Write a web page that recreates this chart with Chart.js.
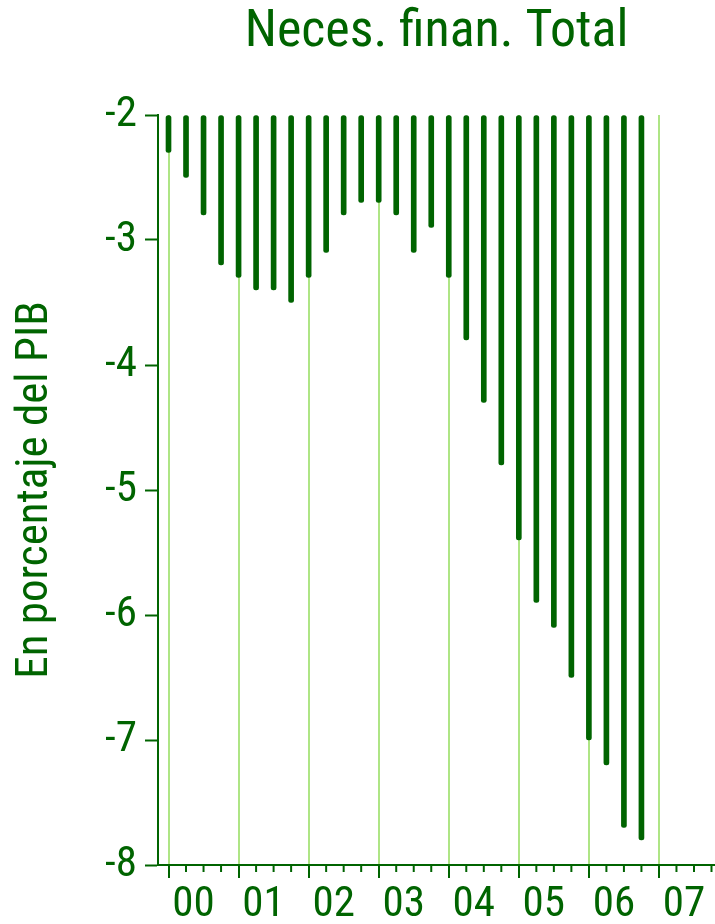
<!DOCTYPE html>
<html>
<head>
<meta charset="utf-8">
<script src="https://cdn.jsdelivr.net/npm/chart.js@4.4.1/dist/chart.umd.min.js"></script>
<style>
  html, body { margin: 0; padding: 0; background: #fff; }
  #wrap { width: 715px; height: 924px; }
</style>
</head>
<body>
<div id="wrap"><canvas id="chart" width="715" height="924"></canvas></div>
<script>
// Quarterly values, 2000 Q1 .. 2006 Q4 (% of GDP)
const quarters = [
  '2000T1', '2000T2', '2000T3', '2000T4',
  '2001T1', '2001T2', '2001T3', '2001T4',
  '2002T1', '2002T2', '2002T3', '2002T4',
  '2003T1', '2003T2', '2003T3', '2003T4',
  '2004T1', '2004T2', '2004T3', '2004T4',
  '2005T1', '2005T2', '2005T3', '2005T4',
  '2006T1', '2006T2', '2006T3', '2006T4'
];
const necesidad = [
  -2.3, -2.5, -2.8, -3.2,
  -3.3, -3.4, -3.4, -3.5,
  -3.3, -3.1, -2.8, -2.7,
  -2.7, -2.8, -3.1, -2.9,
  -3.3, -3.8, -4.3, -4.8,
  -5.4, -5.9, -6.1, -6.5,
  -7.0, -7.2, -7.7, -7.8
];
const yearLabels = ['00', '01', '02', '03', '04', '05', '06', '07'];

const dark = '#006400';
const light = '#aee585';
// no narrow font installed by name, so ask for the condensed width of Roboto
const fontFam = 'Roboto, sans-serif';
const narrow = 'normal condensed';

// short quarter ticks on the x axis
const minorTicks = {
  id: 'minorTicks',
  afterDraw(chart) {
    const x = chart.scales.x;
    const ctx = chart.ctx;
    ctx.save();
    ctx.strokeStyle = dark;
    ctx.lineWidth = 2;
    for (let i = 0; i < 32; i++) {
      if (i % 4 === 0) continue;
      const px = x.getPixelForValue(i);
      ctx.beginPath();
      ctx.moveTo(px, x.top);
      ctx.lineTo(px, x.top + 7);
      ctx.stroke();
    }
    ctx.restore();
  }
};

new Chart(document.getElementById('chart'), {
  type: 'bar',
  data: {
    datasets: [{
      label: 'Neces. finan. Total',
      data: necesidad.map((v, i) => ({ x: i, y: v })),
      base: -2,
      backgroundColor: dark,
      barThickness: 5,
      borderRadius: 2.5,
      borderSkipped: false
    }]
  },
  options: {
    responsive: false,
    animation: false,
    layout: { padding: 0 },
    plugins: {
      legend: { display: false },
      tooltip: { enabled: false },
      title: {
        display: true,
        text: 'Neces. finan. Total',
        color: dark,
        fullSize: false,
        font: { family: fontFam, size: 52, weight: narrow },
        padding: { top: 2, bottom: 50.6 }
      }
    },
    scales: {
      x: {
        type: 'linear',
        min: -0.6,
        max: 31.2,
        offset: false,
        afterBuildTicks(scale) {
          scale.ticks = [];
          for (let i = 0; i < 32; i++) scale.ticks.push({ value: i });
        },
        afterFit(scale) { scale.height = 59; },
        grid: {
          offset: false,
          drawOnChartArea: true,
          color: c => (c.tick && c.tick.value % 4 === 0) ? light : 'rgba(0,0,0,0)',
          lineWidth: 2,
          tickColor: c => (c.tick && c.tick.value % 4 === 0) ? dark : 'rgba(0,0,0,0)',
          tickLength: 13,
          tickWidth: 2
        },
        border: { display: true, color: dark, width: 2 },
        ticks: {
          autoSkip: false,
          maxRotation: 0,
          labelOffset: 25,
          padding: 1,
          color: dark,
          font: { family: fontFam, size: 43, weight: narrow },
          callback: v => v % 4 === 0 ? yearLabels[v / 4] : ''
        }
      },
      y: {
        min: -8,
        max: -2,
        beginAtZero: false,
        afterFit(scale) { scale.width = 158; },
        title: {
          display: true,
          text: 'En porcentaje del PIB',
          color: dark,
          font: { family: fontFam, size: 45, weight: narrow },
          padding: { top: 9, bottom: 0 }
        },
        grid: {
          drawOnChartArea: false,
          tickColor: dark,
          tickLength: 13,
          tickWidth: 2
        },
        border: { display: true, color: dark, width: 2 },
        ticks: {
          stepSize: 1,
          padding: 8,
          color: dark,
          font: { family: fontFam, size: 43, weight: narrow }
        }
      }
    }
  },
  plugins: [minorTicks]
});
</script>
</body>
</html>
